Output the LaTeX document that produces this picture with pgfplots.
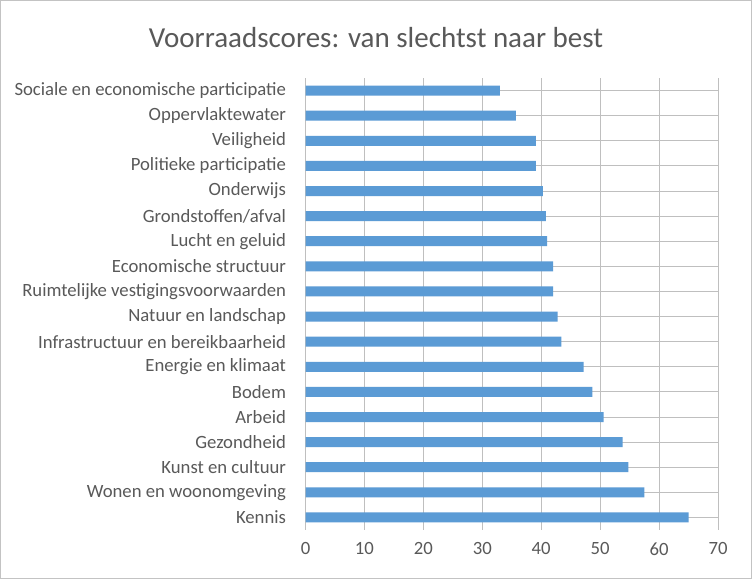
\documentclass[border=0pt]{standalone}
\usepackage{pgfplots}
\pgfplotsset{compat=1.18}
\usepackage{fontspec}
\setmainfont{Carlito}
\definecolor{barblue}{HTML}{5B9BD5}
\definecolor{txt}{HTML}{595959}
\definecolor{grid}{HTML}{D9D9D9}
\begin{document}
\begin{tikzpicture}[x=1pt,y=1pt]
\useasboundingbox (0,0) rectangle (752,579);
\fill[white] (0,0) rectangle (752,579);
\draw[color=grid!90!black, line width=1pt] (0.5,0.5) rectangle (751.5,578.5);
\node[text=txt, font=\fontsize{29}{32}\selectfont, anchor=center] at (376,541) {Voorraadscores: van slechtst naar best};
\begin{axis}[
  at={(305.5pt,49pt)}, anchor=south west,
  scale only axis, width=412.5pt, height=452pt,
  xbar, bar width=10pt,
  xmin=0, xmax=70, xtick={0,10,...,70},
  ymin=-0.5, ymax=17.5, y dir=reverse,
  ytick={0,...,17},
  yticklabels={Sociale en economische participatie, Oppervlaktewater, Veiligheid, Politieke participatie, Onderwijs, Grondstoffen/afval, Lucht en geluid, Economische structuur, Ruimtelijke vestigingsvoorwaarden, Natuur en landschap, Infrastructuur en bereikbaarheid, Energie en klimaat, Bodem, Arbeid\hspace{4pt}, Gezondheid, Kunst en cultuur, Wonen en woonomgeving, Kennis\hspace{4pt}},
  axis lines*=left,
  axis line style={draw opacity=0},
  x axis line style={draw opacity=0},
  y axis line style={draw opacity=0},
  tick style={draw=none},
  major tick length=0pt,
  xmajorgrids, grid style={grid, line width=1pt},
  tick label style={text=txt, font=\fontsize{18.7}{20}\selectfont},
  /pgf/number format/assume math mode=true,
  yticklabel style={anchor=east, xshift=-16pt},
  xticklabel style={yshift=-9pt},
  clip=false,
]
\addplot[fill=barblue, draw=none] coordinates {
(33.0,0) (35.7,1) (39.1,2) (39.1,3) (40.3,4) (40.8,5) (41.0,6) (42.0,7) (42.0,8) (42.8,9) (43.4,10) (47.2,11) (48.7,12) (50.6,13) (53.8,14) (54.8,15) (57.5,16) (65.0,17)
};
\end{axis}
\end{tikzpicture}
\end{document}
